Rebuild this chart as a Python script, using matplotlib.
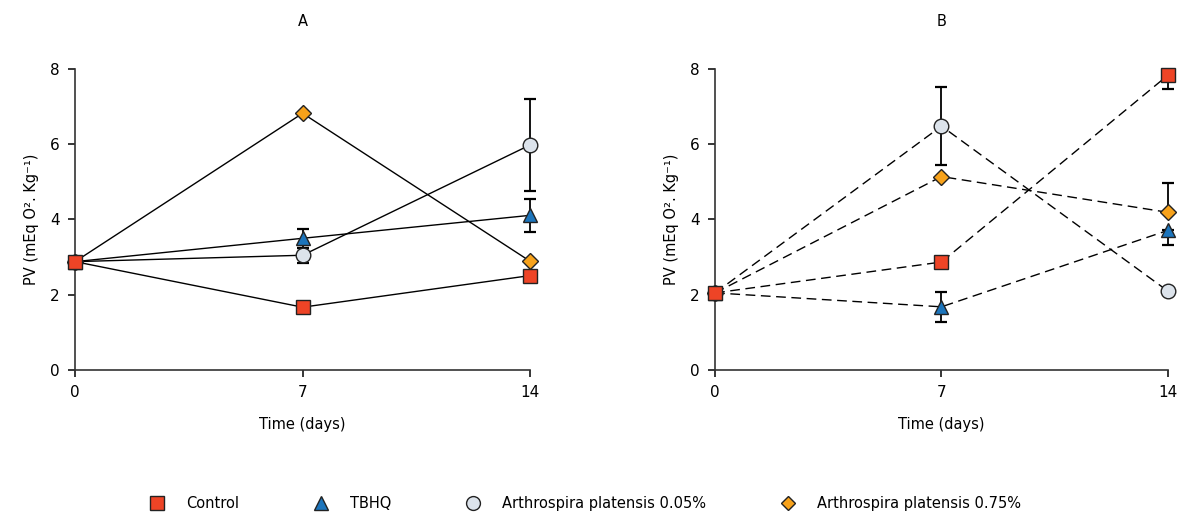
import numpy as np
import matplotlib.pyplot as plt
from matplotlib.lines import Line2D

days = [0, 7, 14]
names = ['Control', 'TBHQ', 'Arthrospira platensis 0.05%', 'Arthrospira platensis 0.75%']

# panel A (solid lines)
a_control = [2.88, 1.67, 2.51]
a_tbhq = [2.88, 3.50, 4.11]
a_ap005 = [2.88, 3.05, 5.98]
a_ap075 = [2.88, 6.82, 2.89]
a_err_lo = {'control': [0, 0, 0], 'tbhq': [0, 0.25, 0.43], 'ap005': [0, 0.20, 1.22], 'ap075': [0, 0, 0]}
a_err_hi = {'control': [0, 0, 0], 'tbhq': [0, 0.25, 0.43], 'ap005': [0, 0.20, 1.22], 'ap075': [0, 0, 0]}

# panel B (dashed lines)
b_control = [2.05, 2.87, 7.83]
b_tbhq = [2.05, 1.68, 3.71]
b_ap005 = [2.05, 6.48, 2.10]
b_ap075 = [2.05, 5.14, 4.19]
b_err_lo = {'control': [0, 0, 0.36], 'tbhq': [0, 0.40, 0.38], 'ap005': [0, 1.03, 0], 'ap075': [0, 0, 0]}
b_err_hi = {'control': [0, 0, 0], 'tbhq': [0, 0.40, 0], 'ap005': [0, 1.03, 0], 'ap075': [0, 0, 0.78]}

keys = ['control', 'tbhq', 'ap005', 'ap075']
markers = {'control': 's', 'tbhq': '^', 'ap005': 'o', 'ap075': 'D'}
msizes = {'control': 10, 'tbhq': 10, 'ap005': 10.5, 'ap075': 8}
colors = {'control': '#EE4426', 'tbhq': '#1C75BC', 'ap005': '#DCE3EB', 'ap075': '#F7A21B'}
zorders = {'control': 6, 'tbhq': 5, 'ap005': 4, 'ap075': 3}

plt.rcParams['font.family'] = 'DejaVu Sans'
plt.rcParams['font.size'] = 10

fig = plt.figure(figsize=(11.82, 5.14), dpi=100)
axA = fig.add_axes([0.0635, 0.280, 0.385, 0.586])
axB = fig.add_axes([0.605, 0.280, 0.383, 0.586])


def draw_panel(ax, data, err_lo, err_hi, ls, title):
    for k in keys:
        ax.plot(days, data[k], color='black', lw=1.0, ls=ls, zorder=2)
    for k in keys:
        yerr = np.array([err_lo[k], err_hi[k]])
        ax.errorbar(days, data[k], yerr=yerr, fmt='none', ecolor='black',
                    elinewidth=1.3, capsize=4, capthick=1.6, zorder=zorders[k] - 0.5,
                    clip_on=False)
        ax.plot(days, data[k], ls='none', marker=markers[k], ms=msizes[k],
                mfc=colors[k], mec='#222222', mew=1.0, zorder=zorders[k] + 10,
                clip_on=False)
    ax.set_xlim(0, 14)
    ax.set_ylim(0, 8)
    ax.set_xticks(days)
    ax.set_yticks([0, 2, 4, 6, 8])
    ax.spines['top'].set_visible(False)
    ax.spines['right'].set_visible(False)
    for s in ['left', 'bottom']:
        ax.spines[s].set_color('#333333')
        ax.spines[s].set_linewidth(1.2)
    ax.tick_params(direction='out', length=5, width=1.1, labelsize=11, pad=6)
    ax.set_xlabel('Time (days)', fontsize=10.5, labelpad=12)
    ax.set_ylabel('PV (mEq O². Kg⁻¹)', fontsize=10.5, labelpad=8)
    ax.set_title(title, fontsize=10.5, pad=31)


draw_panel(axA, {'control': a_control, 'tbhq': a_tbhq, 'ap005': a_ap005, 'ap075': a_ap075},
           a_err_lo, a_err_hi, '-', 'A')
draw_panel(axB, {'control': b_control, 'tbhq': b_tbhq, 'ap005': b_ap005, 'ap075': b_ap075},
           b_err_lo, b_err_hi, (0, (7, 4)), 'B')

handles = [Line2D([], [], ls='none', marker=markers[k], ms=msizes[k] * 0.95,
                  mfc=colors[k], mec='#222222', mew=1.0) for k in keys]
fig.legend(handles, names, loc='center', bbox_to_anchor=(0.495, 0.02), ncol=4,
           frameon=False, fontsize=10.5, columnspacing=5.1, handlelength=1.0,
           handletextpad=1.5)

fig.savefig('out.png', dpi=100)
